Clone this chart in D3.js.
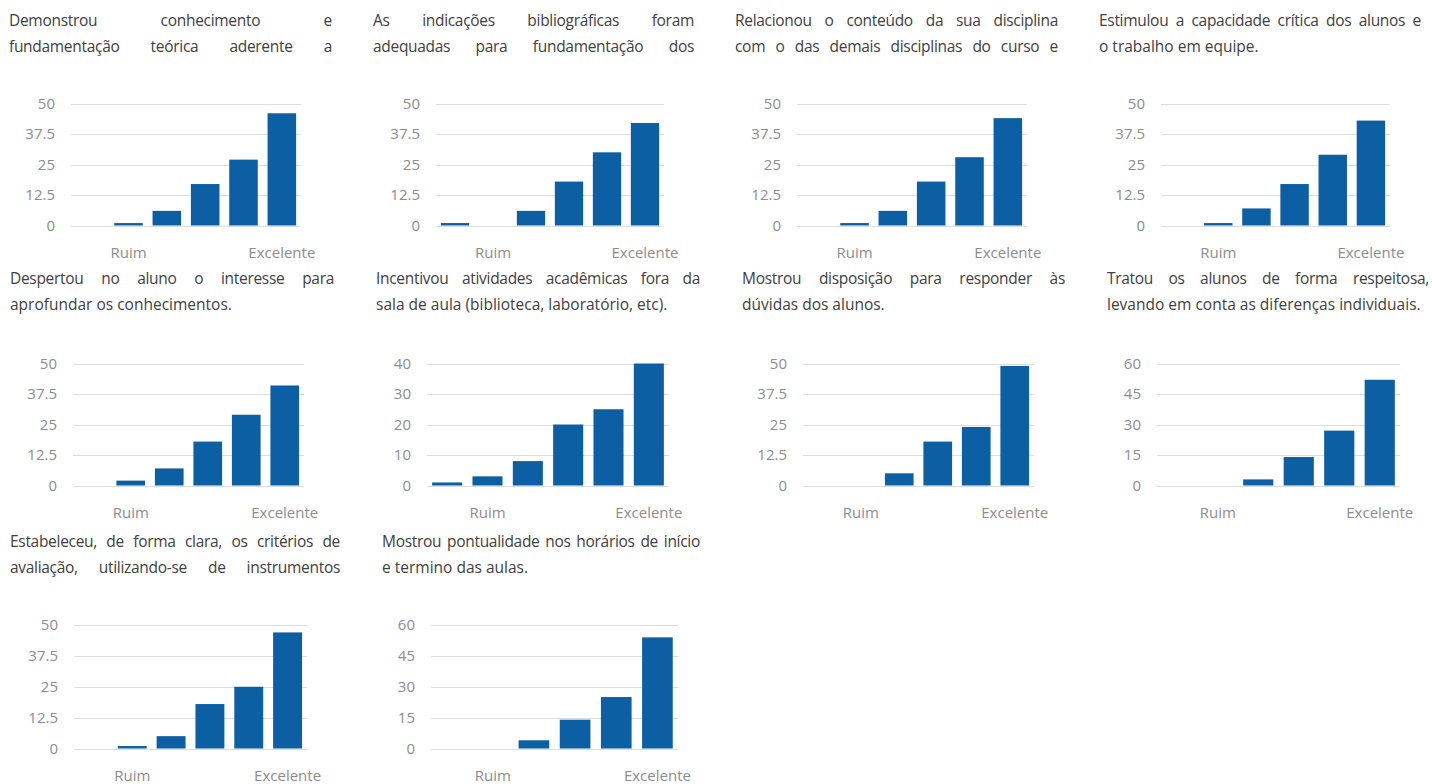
<!DOCTYPE html>
<html>
<head>
<meta charset="utf-8">
<script src="https://cdn.jsdelivr.net/npm/d3@7"></script>
<style>
  html, body { margin: 0; padding: 0; background: #fff; }
  #page { position: relative; width: 1432px; height: 784px; overflow: hidden; font-family: "Open Sans", sans-serif; }
  #page svg { position: absolute; left: 0; top: 0; }
  .title { position: absolute; color: #404040; font-size: 15.5px; line-height: 25.7px; }
  .title div { white-space: normal; height: 25.7px; overflow: hidden; }
  .title .just { text-align: justify; text-align-last: justify; letter-spacing: -0.3px; }
  .axis text { fill: #8c8c8c; font-size: 15px; font-family: "Open Sans", sans-serif; }
</style>
</head>
<body>
<div id="page"></div>
<script>
// question texts (only the two visible lines)
var titles = [
    ["Demonstrou conhecimento e", "fundamentação teórica aderente a"],
    ["As indicações bibliográficas foram", "adequadas para fundamentação dos"],
    ["Relacionou o conteúdo da sua disciplina", "com o das demais disciplinas do curso e"],
    ["Estimulou a capacidade crítica dos alunos e", "o trabalho em equipe."],
    ["Despertou no aluno o interesse para", "aprofundar os conhecimentos."],
    ["Incentivou atividades acadêmicas fora da", "sala de aula (biblioteca, laboratório, etc)."],
    ["Mostrou disposição para responder às", "dúvidas dos alunos."],
    ["Tratou os alunos de forma respeitosa,", "levando em conta as diferenças individuais."],
    ["Estabeleceu, de forma clara, os critérios de", "avaliação, utilizando-se de instrumentos"],
    ["Mostrou pontualidade nos horários de início", "e termino das aulas."]
];
// texts cut after two lines keep the second line justified
var secondLineJustified = [true, true, true, false, false, false, false, false, true, false];

var categories = [0, 1, 2, 3, 4, 5];
var xLabels = ["", "Ruim", "", "", "", "Excelente"];

var counts = [
    [0, 1, 6, 17, 27, 46],
    [1, 0, 6, 18, 30, 42],
    [0, 1, 6, 18, 28, 44],
    [0, 1, 7, 17, 29, 43],
    [0, 2, 7, 18, 29, 41],
    [1, 3, 8, 20, 25, 40],
    [0, 0, 5, 18, 24, 49],
    [0, 0, 3, 14, 27, 52],
    [0, 1, 5, 18, 25, 47],
    [0, 0, 4, 14, 25, 54]
];

var ticks50 = [0, 12.5, 25, 37.5, 50],
    ticks40 = [0, 10, 20, 30, 40],
    ticks60 = [0, 15, 30, 45, 60];
var axisTicks = [ticks50, ticks50, ticks50, ticks50, ticks50, ticks40, ticks50, ticks60, ticks50, ticks60];

// panel layout
var rows = [
    {titleY: 8, top: 103.5, h: 122},
    {titleY: 266, top: 363.5, h: 122},
    {titleY: 529, top: 625, h: 123.5}
];
var cells = [
    {row: 0, tx: 9, tw: 323, x0: 71, x1: 301},
    {row: 0, tx: 373, tw: 321, x0: 436, x1: 664},
    {row: 0, tx: 735, tw: 323, x0: 797, x1: 1027},
    {row: 0, tx: 1099, tw: 322, x0: 1161, x1: 1390},
    {row: 1, tx: 10, tw: 324, x0: 73, x1: 304},
    {row: 1, tx: 376, tw: 324, x0: 427, x1: 669},
    {row: 1, tx: 742, tw: 323, x0: 803, x1: 1034},
    {row: 1, tx: 1107, tw: 322, x0: 1157, x1: 1400},
    {row: 2, tx: 10, tw: 330, x0: 74, x1: 307},
    {row: 2, tx: 382, tw: 318, x0: 431, x1: 678}
];

var barColor = "#0d5fa4",
    gridColor = "#dcdcdc";

var page = d3.select("#page");

// Titles
page.selectAll("div.title")
    .data(titles)
    .join("div")
    .attr("class", "title")
    .style("left", (d, i) => cells[i].tx + "px")
    .style("top", (d, i) => rows[cells[i].row].titleY + "px")
    .style("width", (d, i) => cells[i].tw + "px")
    .each(function(lines, i) {
        d3.select(this).selectAll("div")
            .data(lines)
            .join("div")
            .attr("class", (d, j) => (j == 0 || secondLineJustified[i]) ? "just" : "")
            .text(d => d);
    });

var svg = page.append("svg")
    .attr("width", 1432)
    .attr("height", 784);

counts.forEach((vals, i) => {
    let c = cells[i], r = rows[c.row];
    let ticks = axisTicks[i];

    let x = d3.scaleBand()
        .domain(categories)
        .range([c.x0, c.x1])
        .paddingInner(0.255)
        .paddingOuter(0.1275);

    let y = d3.scaleLinear()
        .domain([0, d3.max(ticks)])
        .range([r.top + r.h, r.top]);

    let g = svg.append("g");

    // gridlines
    g.append("g")
        .selectAll("line")
        .data(ticks)
        .join("line")
        .attr("x1", c.x0)
        .attr("x2", c.x1)
        .attr("y1", d => Math.round(y(d)) + 0.5)
        .attr("y2", d => Math.round(y(d)) + 0.5)
        .attr("stroke", gridColor)
        .attr("stroke-width", 1);

    // y axis labels
    g.append("g")
        .attr("class", "axis")
        .attr("transform", `translate(${c.x0}, 0)`)
        .call(d3.axisLeft(y).tickValues(ticks).tickSize(0).tickPadding(16).tickFormat(d => String(d)))
        .call(a => a.select(".domain").remove());

    // bars
    g.append("g")
        .selectAll("rect")
        .data(vals)
        .join("rect")
        .attr("x", (d, j) => x(categories[j]))
        .attr("y", d => y(d))
        .attr("width", x.bandwidth())
        .attr("height", d => y(0) - y(d))
        .attr("fill", barColor);

    // x axis labels
    g.append("g")
        .attr("class", "axis")
        .attr("transform", `translate(0, ${r.top + r.h})`)
        .call(d3.axisBottom(x).tickSize(0).tickPadding(22).tickFormat(d => xLabels[d]))
        .call(a => a.select(".domain").remove());
});
</script>
</body>
</html>
